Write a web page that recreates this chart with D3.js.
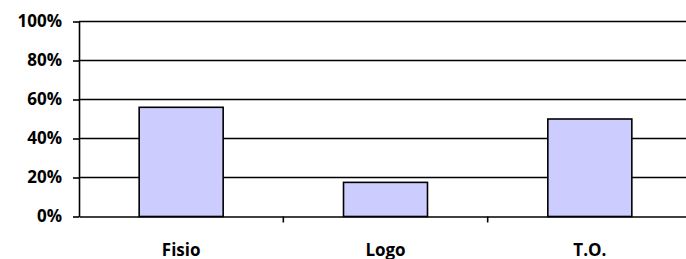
<!DOCTYPE html>
<html>
<head>
  <meta charset="utf-8">
  <title>Fisio Logo T.O.</title>
  <style>
    body { margin: 0; background: #fff; }
    .grid line { stroke: #000; stroke-width: 1.6px; }
    .axis text { font: bold 17px "Open Sans", sans-serif; fill: #000; }
    .axis path, .axis line { stroke: #000; stroke-width: 1.6px; }
    .bar { fill: #ccccff; stroke: #000; stroke-width: 1.6px; }
  </style>
  <script src="https://d3js.org/d3.v7.min.js"></script>
</head>
<body>
  <script>
    var categories = ["Fisio", "Logo", "T.O."];
    var values = [0.56, 0.175, 0.5];
    var yTicks = [0, 0.2, 0.4, 0.6, 0.8, 1];

    var width = 686;
    var height = 259;

    var svg = d3.select('body')
      .append('svg')
      .attr('width', width)
      .attr('height', height);

    var plotLeft = 79, plotRight = 692, plotTop = 21.5, plotBottom = 216.5;

    var x = d3.scaleBand()
      .domain(categories)
      .range([plotLeft, plotRight])
      .paddingInner(0)
      .paddingOuter(0);

    var y = d3.scaleLinear()
      .domain([0, 1])
      .range([plotBottom, plotTop]);

    // gridlines
    svg.append('g')
      .attr('class', 'grid')
      .selectAll('line')
      .data(yTicks.slice(1))
      .enter()
      .append('line')
        .attr('x1', plotLeft)
        .attr('x2', plotRight)
        .attr('y1', d => y(d))
        .attr('y2', d => y(d));

    // bars
    var bw = 84;
    svg.selectAll('.bar')
      .data(values)
      .enter()
      .append('rect')
        .attr('class', 'bar')
        .attr('x', (d, i) => x(categories[i]) + x.bandwidth() / 2 - bw / 2)
        .attr('y', d => y(d))
        .attr('width', bw)
        .attr('height', d => y(0) - y(d));

    // y axis
    svg.append('g')
      .attr('class', 'axis')
      .attr('transform', 'translate(' + plotLeft + ',0)')
      .call(d3.axisLeft(y).tickValues(yTicks).tickFormat(d3.format('.0%')).tickSize(6).tickSizeOuter(0).tickPadding(11));

    // x axis
    var xAxis = svg.append('g')
      .attr('class', 'axis')
      .attr('transform', 'translate(0,' + plotBottom + ')')
      .call(d3.axisBottom(x).tickSize(0).tickSizeOuter(0));

    xAxis.selectAll('.tick text')
      .attr('y', 39)
      .attr('dy', 0);

    // category boundary ticks
    xAxis.selectAll('.sep')
      .data(categories.slice(1))
      .enter()
      .append('line')
        .attr('class', 'sep')
        .attr('x1', d => x(d))
        .attr('x2', d => x(d))
        .attr('y1', 0)
        .attr('y2', 6);
  </script>
</body>
</html>
